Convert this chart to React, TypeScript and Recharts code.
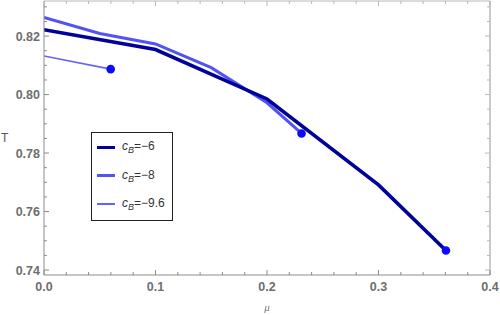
import { ComposedChart, Line, Scatter, XAxis, YAxis, ReferenceLine } from 'recharts';

// phase boundary T(mu) for three values of c_B
const muB6 = [0, 0.1, 0.2, 0.3, 0.3605];
const tB6 = [0.8222, 0.8154, 0.7985, 0.7691, 0.7467];
const muB8 = [0, 0.05, 0.1, 0.15, 0.2, 0.231];
const tB8 = [0.8264, 0.8209, 0.8173, 0.8092, 0.7972, 0.7867];
const muB96 = [0, 0.0598];
const tB96 = [0.8132, 0.8087];

const xMajor = [0, 0.1, 0.2, 0.3, 0.4];
const xMinor = [0.02, 0.04, 0.06, 0.08, 0.12, 0.14, 0.16, 0.18, 0.22, 0.24, 0.26, 0.28, 0.32, 0.34, 0.36, 0.38];
const yMajor = [0.74, 0.76, 0.78, 0.8, 0.82];
const yMinor = [0.745, 0.75, 0.755, 0.765, 0.77, 0.775, 0.785, 0.79, 0.795, 0.805, 0.81, 0.815, 0.825, 0.83];

const series = [
  { name: '-6', mu: muB6, t: tB6, color: '#00009a', width: 3.6 },
  { name: '-8', mu: muB8, t: tB8, color: '#5252f5', width: 3 },
  { name: '-9.6', mu: muB96, t: tB96, color: '#6262ff', width: 1.6 },
];

const W = 500;
const H = 315;
const TOP = 1;
const LEFT = 44;
const RIGHT = 490;
const BOTTOM = 275;
const X_DOMAIN: [number, number] = [0, 0.4];
const Y_DOMAIN: [number, number] = [0.7383, 0.832];

const axisGray = '#8c8c8c';
const frameGray = '#b8b8b8';
const labelStyle = { fontFamily: 'Liberation Sans, Arial, sans-serif', fontSize: 12.5, fontWeight: 700, fill: '#6e6e6e' };

const toRows = (mu: number[], t: number[]) => mu.map((m, i) => ({ mu: m, t: t[i] }));
const endDots = series.map((s) => ({ mu: s.mu[s.mu.length - 1], t: s.t[s.t.length - 1] }));

const isMajor = (v: number, majors: number[]) => majors.some((m) => Math.abs(m - v) < 1e-9);

function XTick(props: any) {
  const { x, y, payload } = props;
  const major = isMajor(payload.value, xMajor);
  const len = major ? 5 : 3;
  return (
    <g>
      <line x1={x} x2={x} y1={y} y2={y - len} stroke={axisGray} />
      <line x1={x} x2={x} y1={TOP} y2={TOP + len} stroke={frameGray} />
      {major && (
        <text x={x} y={y + 16} textAnchor="middle" {...labelStyle}>
          {payload.value.toFixed(1)}
        </text>
      )}
    </g>
  );
}

function YTick(props: any) {
  const { x, y, payload } = props;
  const major = isMajor(payload.value, yMajor);
  const len = major ? 5 : 3;
  return (
    <g>
      <line x1={x} x2={x + len} y1={y} y2={y} stroke={axisGray} />
      <line x1={RIGHT} x2={RIGHT - len} y1={y} y2={y} stroke={frameGray} />
      {major && (
        <text x={x - 4} y={y + 4.5} textAnchor="end" {...labelStyle}>
          {payload.value.toFixed(2)}
        </text>
      )}
    </g>
  );
}

function LegendBox() {
  return (
    <div
      style={{
        position: 'absolute',
        left: 91,
        top: 132,
        width: 80,
        height: 87,
        border: '1.5px solid #222',
        background: '#fff',
        fontFamily: 'Liberation Sans, Arial, sans-serif',
        fontSize: 12,
        color: '#333',
      }}
    >
      {series.map((s, i) => (
        <div
          key={s.name}
          style={{ position: 'absolute', left: 5, top: 6 + i * 28.5, height: 16, display: 'flex', alignItems: 'center' }}
        >
          <div style={{ width: 18, height: Math.max(1.5, s.width - 0.6), background: s.color }} />
          <span style={{ marginLeft: 7, whiteSpace: 'nowrap' }}>
            <i>c</i>
            <sub style={{ fontSize: 9, verticalAlign: -3 }}>
              <i>B</i>
            </sub>
            =−{s.name.slice(1)}
          </span>
        </div>
      ))}
    </div>
  );
}

export default function App() {
  return (
    <div style={{ position: 'absolute', left: 0, top: 0, width: W, height: H, background: '#fff' }}>
      <ComposedChart width={W} height={H} margin={{ top: TOP, right: W - RIGHT, left: 0, bottom: 0 }}>
        <XAxis
          type="number"
          dataKey="mu"
          domain={X_DOMAIN}
          ticks={[...xMajor, ...xMinor]}
          interval={0}
          allowDataOverflow
          height={H - BOTTOM}
          tickSize={0}
          tickMargin={0}
          tickLine={false}
          tick={XTick}
          axisLine={{ stroke: axisGray }}
          label={{ value: 'μ', position: 'insideBottom', offset: 4, fontSize: 11, fontStyle: 'italic', fill: '#777' }}
        />
        <YAxis
          type="number"
          dataKey="t"
          domain={Y_DOMAIN}
          ticks={[...yMajor, ...yMinor]}
          interval={0}
          allowDataOverflow
          width={LEFT}
          tickSize={0}
          tickMargin={0}
          tickLine={false}
          tick={YTick}
          axisLine={{ stroke: axisGray }}
          label={{ value: 'T', position: 'insideLeft', offset: 1, fontSize: 12, fill: '#555', fontFamily: 'Liberation Sans, Arial, sans-serif' }}
        />
        <ReferenceLine x={X_DOMAIN[1]} stroke={frameGray} strokeWidth={1.5} ifOverflow="extendDomain" />
        <ReferenceLine y={Y_DOMAIN[1]} stroke={frameGray} ifOverflow="extendDomain" />
        {[series[2], series[1], series[0]].map((s) => (
          <Line
            key={s.name}
            data={toRows(s.mu, s.t)}
            dataKey="t"
            type="linear"
            stroke={s.color}
            strokeWidth={s.width}
            dot={false}
            activeDot={false}
            isAnimationActive={false}
          />
        ))}
        <Scatter
          data={endDots}
          dataKey="t"
          isAnimationActive={false}
          shape={(p: any) => <circle cx={p.cx} cy={p.cy} r={4.3} fill="#0c0cfa" />}
        />
      </ComposedChart>
      <LegendBox />
    </div>
  );
}
